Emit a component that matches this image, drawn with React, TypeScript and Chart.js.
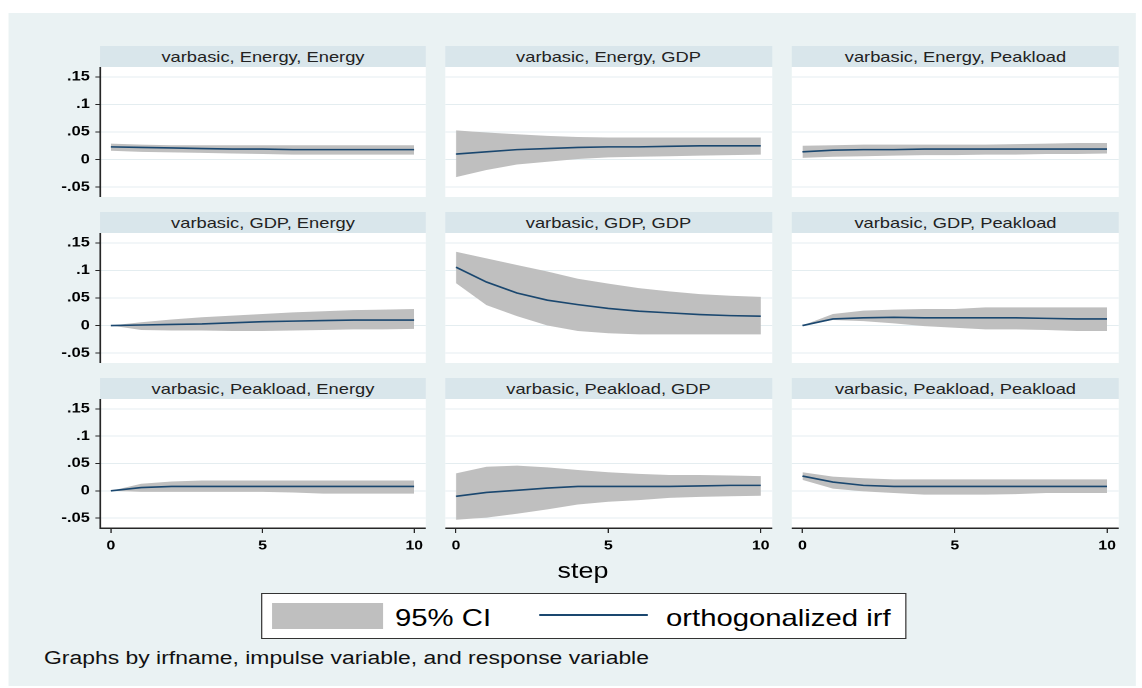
import React, { useEffect, useRef } from "react";
import { Chart, registerables } from "chart.js";

Chart.register(...registerables);

// ---------------- data ----------------
const irfName = "varbasic";
const steps = [0, 1, 2, 3, 4, 5, 6, 7, 8, 9, 10];
const xTickValues = [0, 5, 10];
const xTickLabels = ["0", "5", "10"];
const yTickValues = [-0.05, 0, 0.05, 0.1, 0.15];
const yTickLabels = ["-.05", "0", ".05", ".1", ".15"];
const variables = ["Energy", "GDP", "Peakload"];

// impulse Energy
const irfEnergyEnergy = [0.023, 0.022, 0.021, 0.02, 0.019, 0.019, 0.018, 0.018, 0.018, 0.018, 0.018];
const loEnergyEnergy = [0.016, 0.014, 0.013, 0.012, 0.011, 0.01, 0.009, 0.009, 0.009, 0.009, 0.009];
const hiEnergyEnergy = [0.029, 0.027, 0.026, 0.026, 0.026, 0.026, 0.026, 0.026, 0.026, 0.026, 0.026];

const irfEnergyGDP = [0.01, 0.014, 0.018, 0.02, 0.022, 0.023, 0.023, 0.024, 0.025, 0.025, 0.025];
const loEnergyGDP = [-0.032, -0.019, -0.009, -0.004, 0.001, 0.004, 0.005, 0.006, 0.007, 0.008, 0.009];
const hiEnergyGDP = [0.053, 0.049, 0.046, 0.043, 0.041, 0.04, 0.04, 0.04, 0.04, 0.04, 0.04];

const irfEnergyPeakload = [0.014, 0.017, 0.018, 0.018, 0.019, 0.019, 0.019, 0.019, 0.019, 0.019, 0.019];
const loEnergyPeakload = [0.003, 0.005, 0.006, 0.007, 0.008, 0.008, 0.009, 0.009, 0.01, 0.01, 0.011];
const hiEnergyPeakload = [0.025, 0.026, 0.027, 0.027, 0.027, 0.027, 0.027, 0.028, 0.029, 0.03, 0.03];

// impulse GDP
const irfGDPEnergy = [0, 0.001, 0.002, 0.003, 0.005, 0.007, 0.008, 0.009, 0.01, 0.01, 0.01];
const loGDPEnergy = [0, -0.008, -0.009, -0.009, -0.01, -0.01, -0.009, -0.008, -0.007, -0.007, -0.006];
const hiGDPEnergy = [0, 0.006, 0.011, 0.015, 0.018, 0.021, 0.024, 0.026, 0.028, 0.029, 0.03];

const irfGDPGDP = [0.106, 0.079, 0.059, 0.046, 0.038, 0.031, 0.026, 0.023, 0.02, 0.018, 0.017];
const loGDPGDP = [0.077, 0.037, 0.017, 0.0, -0.01, -0.014, -0.016, -0.016, -0.016, -0.016, -0.016];
const hiGDPGDP = [0.134, 0.122, 0.11, 0.098, 0.085, 0.076, 0.068, 0.062, 0.057, 0.054, 0.052];

const irfGDPPeakload = [0, 0.012, 0.014, 0.015, 0.014, 0.014, 0.014, 0.014, 0.013, 0.012, 0.012];
const loGDPPeakload = [0, 0.01, 0.008, 0.004, -0.001, -0.004, -0.007, -0.007, -0.008, -0.01, -0.01];
const hiGDPPeakload = [0, 0.021, 0.027, 0.029, 0.03, 0.03, 0.033, 0.033, 0.033, 0.033, 0.033];

// impulse Peakload
const irfPeakloadEnergy = [0, 0.006, 0.008, 0.008, 0.008, 0.008, 0.008, 0.008, 0.008, 0.008, 0.008];
const loPeakloadEnergy = [0, -0.002, -0.002, -0.002, -0.002, -0.002, -0.003, -0.005, -0.005, -0.005, -0.005];
const hiPeakloadEnergy = [0, 0.013, 0.017, 0.019, 0.019, 0.019, 0.019, 0.019, 0.019, 0.019, 0.019];

const irfPeakloadGDP = [-0.01, -0.003, 0.001, 0.005, 0.008, 0.008, 0.008, 0.008, 0.009, 0.01, 0.01];
const loPeakloadGDP = [-0.053, -0.049, -0.042, -0.034, -0.025, -0.02, -0.017, -0.013, -0.011, -0.01, -0.009];
const hiPeakloadGDP = [0.032, 0.044, 0.046, 0.043, 0.038, 0.034, 0.031, 0.029, 0.029, 0.028, 0.027];

const irfPeakloadPeakload = [0.027, 0.016, 0.01, 0.008, 0.008, 0.008, 0.008, 0.008, 0.008, 0.008, 0.008];
const loPeakloadPeakload = [0.02, 0.004, -0.001, -0.004, -0.007, -0.007, -0.007, -0.006, -0.004, -0.004, -0.004];
const hiPeakloadPeakload = [0.034, 0.026, 0.023, 0.021, 0.021, 0.021, 0.021, 0.021, 0.021, 0.021, 0.021];

const panelData = [
  [
    { irf: irfEnergyEnergy, lo: loEnergyEnergy, hi: hiEnergyEnergy },
    { irf: irfEnergyGDP, lo: loEnergyGDP, hi: hiEnergyGDP },
    { irf: irfEnergyPeakload, lo: loEnergyPeakload, hi: hiEnergyPeakload },
  ],
  [
    { irf: irfGDPEnergy, lo: loGDPEnergy, hi: hiGDPEnergy },
    { irf: irfGDPGDP, lo: loGDPGDP, hi: hiGDPGDP },
    { irf: irfGDPPeakload, lo: loGDPPeakload, hi: hiGDPPeakload },
  ],
  [
    { irf: irfPeakloadEnergy, lo: loPeakloadEnergy, hi: hiPeakloadEnergy },
    { irf: irfPeakloadGDP, lo: loPeakloadGDP, hi: hiPeakloadGDP },
    { irf: irfPeakloadPeakload, lo: loPeakloadPeakload, hi: hiPeakloadPeakload },
  ],
];

// ---------------- style / layout ----------------
const S = 1.22; // horizontal stretch of the original raster
const X = (px: number) => px / S;
const FONT = '"Liberation Sans", Arial, Helvetica, sans-serif';
const NAVY = "#1A476F";
const CI_GRAY = "#BFBFBF";
const BG = "#EAF2F3";
const STRIP = "#D9E6EB";
const GRID = "#E4EDF0";
const AXIS = "#262626";

const colLeft = [100, 445, 792];
const colRight = [426, 772, 1119];
const rowTop = [67, 233, 399];
const rowBottom = [197, 363, 528];
const STRIP_H = 21;

function Panel({ r, c }: { r: number; c: number }) {
  const ref = useRef<HTMLCanvasElement>(null);
  const d = panelData[r][c];
  const isLeft = c === 0;
  const isBottom = r === 2;
  const axisW = isLeft ? 60 : 0;
  const axisH = isBottom ? 40 : 0;
  const leftPx = colLeft[c] - axisW;
  const top = rowTop[r];
  const w = Math.round(X(colRight[c] - leftPx));
  const h = rowBottom[r] - top + axisH;

  useEffect(() => {
    if (!ref.current) return;
    const chart = new Chart(ref.current, {
      type: "line",
      data: {
        datasets: [
          {
            label: "orthogonalized irf",
            data: steps.map((s, i) => ({ x: s, y: d.irf[i] })),
            borderColor: NAVY,
            borderWidth: 1.6,
            pointRadius: 0,
            fill: false,
            tension: 0,
          },
          {
            label: "lower",
            data: steps.map((s, i) => ({ x: s, y: d.lo[i] })),
            borderWidth: 0,
            borderColor: "rgba(0,0,0,0)",
            pointRadius: 0,
            fill: false,
            tension: 0,
          },
          {
            label: "95% CI",
            data: steps.map((s, i) => ({ x: s, y: d.hi[i] })),
            borderWidth: 0,
            borderColor: "rgba(0,0,0,0)",
            backgroundColor: CI_GRAY,
            pointRadius: 0,
            fill: 1,
            tension: 0,
          },
        ],
      },
      options: {
        responsive: false,
        animation: false,
        devicePixelRatio: 2,
        layout: { padding: 0 },
        plugins: {
          legend: { display: false },
          tooltip: { enabled: false },
          title: { display: false },
        },
        scales: {
          x: {
            type: "linear",
            min: -0.35,
            max: 10.38,
            afterBuildTicks: (s: any) => {
              s.ticks = xTickValues.map((v) => ({ value: v }));
            },
            afterFit: (s: any) => {
              s.height = axisH;
              s.paddingLeft = 0;
              s.paddingRight = 0;
              s.paddingTop = 0;
              s.paddingBottom = 0;
            },
            grid: {
              display: isBottom,
              drawOnChartArea: false,
              drawTicks: true,
              tickLength: 5,
              tickColor: AXIS,
              color: AXIS,
              lineWidth: 1,
            },
            border: { display: isBottom, color: AXIS, width: 1.5 },
            ticks: {
              display: isBottom,
              autoSkip: false,
              maxRotation: 0,
              padding: 5,
              color: "#000",
              font: { family: FONT, size: 13, weight: "bold" },
              callback: (_v: any, i: number) => xTickLabels[i],
            },
          },
          y: {
            type: "linear",
            min: -0.068,
            max: 0.168,
            afterBuildTicks: (s: any) => {
              s.ticks = yTickValues.map((v) => ({ value: v }));
            },
            afterFit: (s: any) => {
              s.width = X(axisW);
              s.paddingLeft = 0;
              s.paddingRight = 0;
              s.paddingTop = 0;
              s.paddingBottom = 0;
            },
            grid: {
              display: true,
              color: GRID,
              lineWidth: 1,
              drawTicks: isLeft,
              tickLength: 4,
              tickColor: AXIS,
            },
            border: { display: isLeft, color: AXIS, width: 1.5 },
            ticks: {
              display: isLeft,
              padding: 4.5,
              color: "#000",
              font: { family: FONT, size: 13.5, weight: "bold" },
              callback: (_v: any, i: number) => yTickLabels[i],
            },
          },
        },
      },
    });
    return () => chart.destroy();
  }, []);

  return (
    <canvas
      ref={ref}
      width={w}
      height={h}
      style={{ position: "absolute", left: X(leftPx), top }}
    />
  );
}

export default function App() {
  const abs: React.CSSProperties = { position: "absolute", whiteSpace: "nowrap", fontFamily: FONT };
  const cells: { r: number; c: number }[] = [];
  for (let r = 0; r < 3; r++) for (let c = 0; c < 3; c++) cells.push({ r, c });

  return (
    <div
      style={{
        position: "fixed",
        left: 0,
        top: 0,
        width: X(1142),
        height: 688,
        background: "#fff",
        transform: `scaleX(${S})`,
        transformOrigin: "0 0",
        overflow: "hidden",
        fontFamily: FONT,
      }}
    >
      <div style={{ ...abs, left: X(9), top: 13, width: X(1127), height: 673, background: BG }} />

      {cells.map(({ r, c }) => (
        <React.Fragment key={`${r}-${c}`}>
          <div
            style={{
              ...abs,
              left: X(colLeft[c]),
              top: rowTop[r] - STRIP_H,
              width: X(colRight[c] - colLeft[c]),
              height: STRIP_H,
              lineHeight: `${STRIP_H}px`,
              background: STRIP,
              textAlign: "center",
              fontSize: 15,
              color: "#222",
            }}
          >
            {`${irfName}, ${variables[r]}, ${variables[c]}`}
          </div>
          <div
            style={{
              ...abs,
              left: X(colLeft[c]),
              top: rowTop[r],
              width: X(colRight[c] - colLeft[c]),
              height: rowBottom[r] - rowTop[r],
              background: "#fff",
            }}
          />
          <Panel r={r} c={c} />
        </React.Fragment>
      ))}

      <div
        style={{
          ...abs,
          left: X(533),
          top: 559.5,
          width: X(100),
          textAlign: "center",
          fontSize: 22,
          lineHeight: 1,
          color: "#000",
        }}
      >
        step
      </div>

      <div
        style={{
          ...abs,
          left: X(261),
          top: 593,
          width: X(646),
          height: 46,
          boxSizing: "border-box",
          border: "1px solid #333",
          background: "#fff",
        }}
      />
      <div style={{ ...abs, left: X(272), top: 603, width: X(111), height: 26, background: CI_GRAY }} />
      <div style={{ ...abs, left: X(395), top: 605.7, fontSize: 24, lineHeight: 1, color: "#000" }}>95% CI</div>
      <div style={{ ...abs, left: X(539), top: 614, width: X(109), height: 2, background: NAVY }} />
      <div style={{ ...abs, left: X(666), top: 605.7, fontSize: 24, lineHeight: 1, color: "#000" }}>
        orthogonalized irf
      </div>

      <div style={{ ...abs, left: X(44), top: 649, fontSize: 18.8, lineHeight: 1, color: "#111" }}>
        Graphs by irfname, impulse variable, and response variable
      </div>
    </div>
  );
}
